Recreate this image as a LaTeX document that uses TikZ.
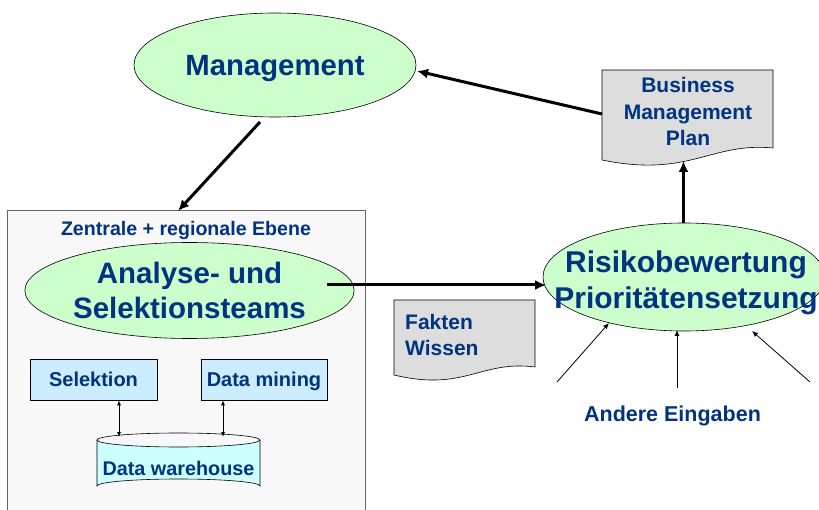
\documentclass[tikz,border=0pt]{standalone}
\usepackage{fontspec}
\setmainfont{Liberation Sans}
\usetikzlibrary{shapes.geometric,arrows.meta}
\definecolor{txtblue}{RGB}{0,51,128}
\definecolor{ellgreen}{RGB}{204,255,204}
\definecolor{docgray}{RGB}{221,221,221}
\definecolor{boxgray}{RGB}{248,248,248}
\definecolor{boxedge}{RGB}{100,100,100}
\definecolor{lblue}{RGB}{204,236,255}
\definecolor{lcyan}{RGB}{204,255,255}
\tikzset{
  ell/.style={ellipse,draw=black,line width=0.6pt,fill=ellgreen,inner sep=0pt,text=txtblue,font=\bfseries,align=center},
  lbl/.style={text=txtblue,font=\bfseries,inner sep=0pt},
  smallbox/.style={draw=black,line width=0.6pt,fill=lblue,text=txtblue,font=\bfseries\fontsize{20}{22}\selectfont,minimum width=126pt,minimum height=41pt,inner sep=0pt,text height=18pt,text depth=3pt},
  bigarrow/.style={line width=3pt,-{Latex[length=11pt,width=10pt]}},
  thinarrow/.style={line width=0.8pt,-{Latex[length=6pt,width=5pt]}},
  dblarrow/.style={line width=0.8pt,{Latex[length=5pt,width=4pt]}-{Latex[length=5pt,width=4pt]}},
  docshape/.style={draw=black,line width=0.6pt,fill=docgray}
}
\begin{document}
\begin{tikzpicture}[x=1pt,y=-1pt]
\useasboundingbox (0,0) rectangle (819,510);
% big box
\draw[draw=boxedge,line width=1pt,fill=boxgray] (7,211) rectangle (365,520);
\node[lbl,font=\bfseries\fontsize{19.6}{22}\selectfont] (zr) at (186,230) {Zentrale + regionale Ebene};
% ellipses
\node[ell,minimum width=282pt,minimum height=104pt] (mgmt) at (275,65) {};
\node[lbl,font=\bfseries\fontsize{29.3}{35}\selectfont] (mgtxt) at (275,69) {Management};
\node[ell,minimum width=275pt,minimum height=96pt,font=\bfseries\fontsize{29.5}{35}\selectfont] (an) at (189.5,290.5) {Analyse- und\\Selektionsteams};
\node[ell,minimum width=282pt,minimum height=108pt] (ri) at (684,277) {};
\node[lbl,align=center,font=\bfseries\fontsize{30}{36}\selectfont] (ritxt) at (686,283) {Risikobewertung\\Prioritätensetzung};
% small boxes
\node[smallbox,minimum width=127pt] (sel) at (93.5,379.5) {Selektion};
\node[smallbox] (dm) at (264,379.5) {Data mining};
% cylinder
\fill[lcyan] (97,440) -- (97,486) arc[start angle=180,end angle=360,x radius=81.5,y radius=7] -- (260,440) arc[start angle=0,end angle=180,x radius=81.5,y radius=7];
\draw[line width=0.6pt] (178.5,440) ellipse[x radius=81.5,y radius=7];
\draw[line width=0.6pt] (97,440) -- (97,486) arc[start angle=180,end angle=360,x radius=81.5,y radius=7] -- (260,440);
\node[lbl,font=\bfseries\fontsize{19.8}{22}\selectfont] (dw) at (178.5,468) {Data warehouse};
\coordinate (dwsel) at (119,437);
\coordinate (dwdm) at (223,437);
\draw[dblarrow] (sel.south -| dwsel) -- (dwsel);
\draw[dblarrow] (dm.south -| dwdm) -- (dwdm);
% documents
\draw[docshape] (602,70) -- (773,70) -- (773,148) .. controls (710,142) and (690,178) .. (602,160) -- cycle;
\node[lbl,align=center,font=\bfseries\fontsize{21}{26.5}\selectfont] (bmp) at (688,111.5) {Business\\Management\\Plan};
\draw[docshape] (394,300) -- (535,300) -- (535,367) .. controls (480,360) and (465,392) .. (394,375) -- cycle;
\node[lbl,align=left,anchor=west,font=\bfseries\fontsize{21}{26}\selectfont] (fw) at (405,335) {Fakten\\Wissen};
\node[lbl,font=\bfseries\fontsize{21.5}{24}\selectfont] (ae) at (672.5,416) {Andere Eingaben};
% connectors
\coordinate (m1) at (260,122);
\coordinate (b1) at (178,211);
\draw[bigarrow] (m1) -- (b1);
\coordinate (a1) at (327,285);
\coordinate (r1) at (546,285);
\draw[bigarrow] (a1) -- (r1);
\coordinate (bp1) at (602,114);
\coordinate (mg1) at (417,71);
\draw[bigarrow] (bp1) -- (mg1);
\coordinate (bp2) at (683.5,161);
\draw[bigarrow] (ri.north -| bp2) -- (bp2);
\coordinate (i1s) at (557,382);
\coordinate (i1e) at (609,323);
\coordinate (i2s) at (677,388);
\coordinate (i2e) at (677,330);
\coordinate (i3s) at (810,382);
\coordinate (i3e) at (752,331);
\draw[thinarrow] (i1s) -- (i1e);
\draw[thinarrow] (i2s) -- (i2e);
\draw[thinarrow] (i3s) -- (i3e);
\end{tikzpicture}
\end{document}
